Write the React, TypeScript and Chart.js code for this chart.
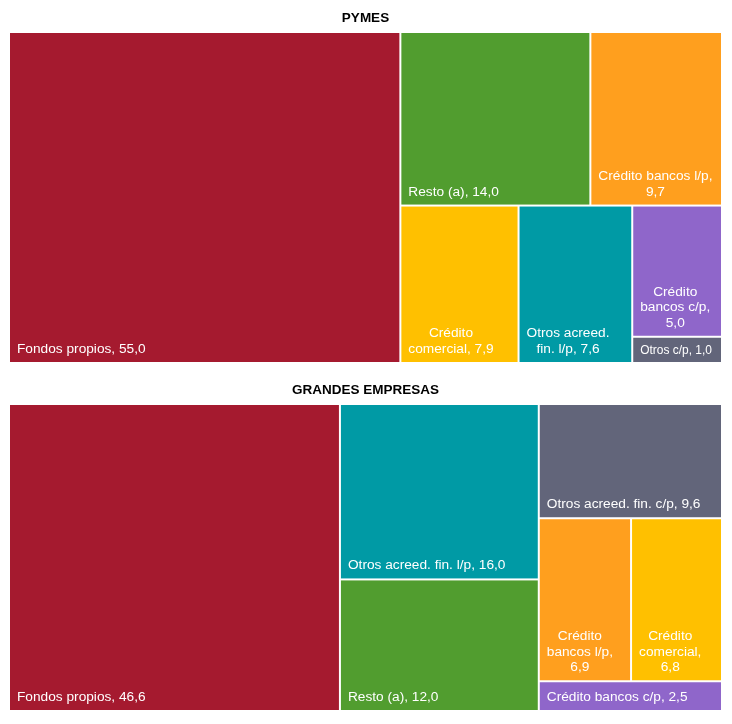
import React, { useEffect, useRef } from 'react';
import { Chart, registerables } from 'chart.js';

Chart.register(...registerables);

const FONT = "Arial, 'Liberation Sans', Helvetica, sans-serif";

// ---- Data ----
const pymesLabels = [
  'Fondos propios',
  'Resto (a)',
  'Crédito bancos l/p',
  'Crédito comercial',
  'Otros acreed. fin. l/p',
  'Crédito bancos c/p',
  'Otros c/p',
];
const pymesValues = [55.0, 14.0, 9.7, 7.9, 7.6, 5.0, 1.0];

const grandesLabels = [
  'Fondos propios',
  'Otros acreed. fin. l/p',
  'Resto (a)',
  'Otros acreed. fin. c/p',
  'Crédito bancos l/p',
  'Crédito comercial',
  'Crédito bancos c/p',
];
const grandesValues = [46.6, 16.0, 12.0, 9.6, 6.9, 6.8, 2.5];

// ---- Colours per category ----
const categoryColors: Record<string, string> = {
  'Fondos propios': '#A51A2F',
  'Resto (a)': '#519D2F',
  'Crédito bancos l/p': '#FF9F1E',
  'Crédito comercial': '#FFC000',
  'Otros acreed. fin. l/p': '#009AA5',
  'Crédito bancos c/p': '#8F66CA',
  'Otros c/p': '#62657A',
  'Otros acreed. fin. c/p': '#62657A',
};

type R = { x: number; y: number; w: number; h: number };

function worst(row: number[], side: number) {
  const s = row.reduce((a, b) => a + b, 0);
  const mx = Math.max(...row);
  const mn = Math.min(...row);
  return Math.max((side * side * mx) / (s * s), (s * s) / (side * side * mn));
}

function squarify(values: number[], W: number, H: number): R[] {
  const total = values.reduce((a, b) => a + b, 0);
  const areas = values.map((v) => (v * W * H) / total);
  const rects: R[] = [];
  let x = 0, y = 0, w = W, h = H;
  let i = 0;
  while (i < areas.length) {
    const side = Math.min(w, h);
    let row = [areas[i]];
    let best = worst(row, side);
    let j = i + 1;
    while (j < areas.length) {
      const r2 = [...row, areas[j]];
      const wv = worst(r2, side);
      if (wv <= best) {
        row = r2;
        best = wv;
        j++;
      } else break;
    }
    const s = row.reduce((a, b) => a + b, 0);
    if (w >= h) {
      const cw = s / h;
      let cy = y;
      row.forEach((a) => {
        const rh = a / cw;
        rects.push({ x, y: cy, w: cw, h: rh });
        cy += rh;
      });
      x += cw;
      w -= cw;
    } else {
      const rh = s / w;
      let cx = x;
      row.forEach((a) => {
        const cw = a / rh;
        rects.push({ x: cx, y, w: cw, h: rh });
        cx += cw;
      });
      y += rh;
      h -= rh;
    }
    i = j;
  }
  return rects;
}

function wrapText(ctx: CanvasRenderingContext2D, text: string, maxW: number) {
  const words = text.split(' ');
  const lines: string[] = [];
  let cur = '';
  for (const wd of words) {
    const t = cur ? cur + ' ' + wd : wd;
    if (cur && ctx.measureText(t).width > maxW) {
      lines.push(cur);
      cur = wd;
    } else cur = t;
  }
  if (cur) lines.push(cur);
  return lines;
}

const fmt = (v: number) => v.toFixed(1).replace('.', ',');

const treemapPlugin = {
  id: 'treemapCells',
  afterDatasetsDraw(chart: any) {
    const ctx: CanvasRenderingContext2D = chart.ctx;
    const ds = chart.data.datasets[0];
    const labels: string[] = chart.data.labels;
    const values: number[] = ds.data;
    const colors: string[] = ds.backgroundColor;
    const xs = chart.scales.x;
    const ys = chart.scales.y;
    const area = chart.chartArea;
    const W = area.right - area.left;
    const H = area.bottom - area.top;
    const rects = squarify(values, W, H);
    const baseSize = 13.7;
    const lineH = 15.6;
    ctx.save();
    rects.forEach((r, i) => {
      const x0 = xs.getPixelForValue((r.x / W) * 100);
      const x1 = xs.getPixelForValue(((r.x + r.w) / W) * 100);
      const y0 = ys.getPixelForValue((r.y / H) * 100);
      const y1 = ys.getPixelForValue(((r.y + r.h) / H) * 100);
      const rx = x0 + 1;
      const ry = y0 + 1;
      const rw = x1 - x0 - 2;
      const rh = y1 - y0 - 2;
      ctx.fillStyle = colors[i];
      ctx.fillRect(rx, ry, rw, rh);

      const text = `${labels[i]}, ${fmt(values[i])}`;
      let size = baseSize;
      ctx.font = `${size}px ${FONT}`;
      let lines: string[];
      const full = ctx.measureText(text).width;
      if (full <= rw - 12) {
        lines = [text];
      } else {
        lines = wrapText(ctx, text, rw - 12);
        if (lines.length * lineH + 9 > rh) {
          lines = [text];
          size = (baseSize * (rw - 16)) / full;
          ctx.font = `${size}px ${FONT}`;
        }
      }
      const blockW = Math.max(...lines.map((l) => ctx.measureText(l).width));
      const cx = rx + 7 + blockW / 2;
      const bottom = ry + rh;
      const k = size / baseSize;
      ctx.fillStyle = '#FFFFFF';
      ctx.textAlign = 'center';
      ctx.textBaseline = 'alphabetic';
      const n = lines.length;
      lines.forEach((l, li) => {
        const by = bottom - 9 * k - (n - 1 - li) * lineH * k;
        ctx.fillText(l, cx, by);
      });
    });
    ctx.restore();
  },
};

type Props = {
  title: string;
  labels: string[];
  values: number[];
  height: number;
  padTop: number;
  padBottom: number;
  layoutBottom: number;
};

function Treemap({ title, labels, values, height, padTop, padBottom, layoutBottom }: Props) {
  const ref = useRef<HTMLCanvasElement>(null);
  useEffect(() => {
    if (!ref.current) return;
    const chart = new Chart(ref.current, {
      type: 'scatter',
      data: {
        labels,
        datasets: [
          {
            data: values as any,
            backgroundColor: labels.map((l) => categoryColors[l]) as any,
            pointRadius: 0,
            pointHoverRadius: 0,
            showLine: false,
          },
        ],
      },
      options: {
        responsive: false,
        animation: false,
        events: [],
        layout: { padding: { left: 1, right: 2, top: 0, bottom: layoutBottom } },
        scales: {
          x: { type: 'linear', min: 0, max: 100, display: false },
          y: { type: 'linear', min: 0, max: 100, reverse: true, display: false },
        },
        plugins: {
          legend: { display: false },
          tooltip: { enabled: false },
          title: {
            display: true,
            text: title,
            color: '#000000',
            font: { family: FONT, size: 13.5, weight: 'bold' },
            padding: { top: padTop, bottom: padBottom },
          },
        },
      },
      plugins: [treemapPlugin],
    });
    return () => chart.destroy();
  }, []);
  return <canvas ref={ref} width={716} height={height} style={{ display: 'block' }} />;
}

export default function App() {
  return (
    <div style={{ width: 716 }}>
      <Treemap
        title="PYMES"
        labels={pymesLabels}
        values={pymesValues}
        height={362}
        padTop={2.3}
        padBottom={5.5}
        layoutBottom={7}
      />
      <Treemap
        title="GRANDES EMPRESAS"
        labels={grandesLabels}
        values={grandesValues}
        height={346}
        padTop={12.3}
        padBottom={5.5}
        layoutBottom={5}
      />
    </div>
  );
}
